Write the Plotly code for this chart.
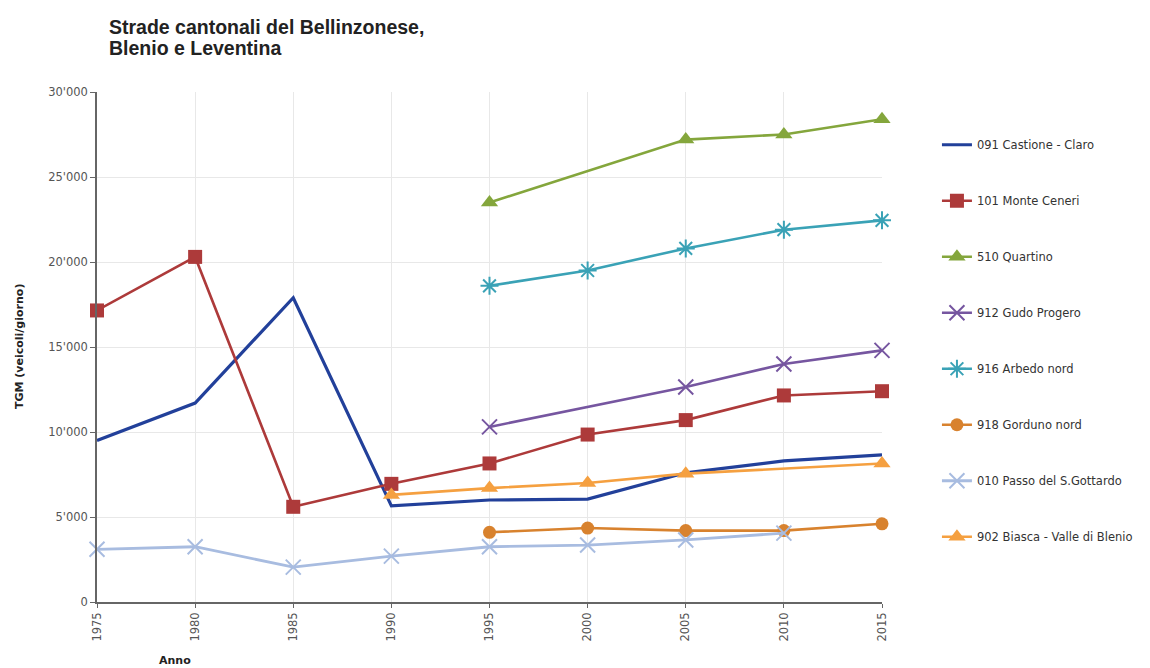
import plotly.graph_objects as go

years = [1975, 1980, 1985, 1990, 1995, 2000, 2005, 2010, 2015]

castione_claro = [9500, 11700, 17900, 5650, 6000, 6050, 7600, 8300, 8650]
monte_ceneri = [17150, 20300, 5600, 6950, 8150, 9850, 10700, 12150, 12400]
quartino = [None, None, None, None, 23500, None, 27200, 27500, 28400]
gudo_progero = [None, None, None, None, 10300, None, 12650, 14000, 14800]
arbedo_nord = [None, None, None, None, 18600, 19500, 20800, 21900, 22450]
gorduno_nord = [None, None, None, None, 4100, 4350, 4200, 4200, 4600]
passo_gottardo = [3100, 3250, 2050, 2700, 3250, 3350, 3650, 4050, None]
biasca_blenio = [None, None, None, 6300, 6700, 7000, 7550, None, 8150]

series_names = [
    "091 Castione - Claro",
    "101 Monte Ceneri",
    "510 Quartino",
    "912 Gudo Progero",
    "916 Arbedo nord",
    "918 Gorduno nord",
    "010 Passo del S.Gottardo",
    "902 Biasca - Valle di Blenio",
]
series_values = [castione_claro, monte_ceneri, quartino, gudo_progero,
                 arbedo_nord, gorduno_nord, passo_gottardo, biasca_blenio]

y_tickvals = [0, 5000, 10000, 15000, 20000, 25000, 30000]
y_ticktext = ["0", "5'000", "10'000", "15'000", "20'000", "25'000", "30'000"]

title_lines = ["Strade cantonali del Bellinzonese,", "Blenio e Leventina"]

styles = [
    dict(color="#22409a", width=3.2, symbol=None, size=0),
    dict(color="#ad3a3a", width=2.6, symbol="square", size=14),
    dict(color="#84a63c", width=2.6, symbol="triangle-up", size=15),
    dict(color="#7656a0", width=2.6, symbol="x-thin-open", size=15),
    dict(color="#3aa2b6", width=2.6, symbol="asterisk-open", size=15),
    dict(color="#d8822e", width=2.6, symbol="circle", size=13),
    dict(color="#a8bce0", width=2.8, symbol="x-thin-open", size=15),
    dict(color="#f5a040", width=2.6, symbol="triangle-up", size=15),
]

TICKFONT = "DejaVu Sans, Liberation Sans, sans-serif"
TITLEFONT = "Liberation Sans, Arial, sans-serif"

fig = go.Figure()
for i, (name, vals, st) in enumerate(zip(series_names, series_values, styles)):
    mode = "lines" if st["symbol"] is None else "lines+markers"
    marker = dict(color=st["color"], size=st["size"])
    if st["symbol"] is not None:
        marker["symbol"] = st["symbol"]
        if "open" in st["symbol"]:
            marker["line"] = dict(color=st["color"], width=2)
    fig.add_trace(go.Scatter(
        x=years, y=vals, name=name, mode=mode,
        line=dict(color=st["color"], width=st["width"]),
        marker=marker, connectgaps=True, cliponaxis=False,
        legendgroup=f"g{i}",
    ))

annotations = [
    dict(text=f"<b>{title_lines[0]}</b>", xref="paper", yref="paper",
         x=0, xshift=10, y=1, yshift=65, xanchor="left", yanchor="middle",
         align="left", showarrow=False,
         font=dict(family=TITLEFONT, size=19.5, color="#222")),
    dict(text=f"<b>{title_lines[1]}</b>", xref="paper", yref="paper",
         x=0, xshift=10, y=1, yshift=44, xanchor="left", yanchor="middle",
         align="left", showarrow=False,
         font=dict(family=TITLEFONT, size=19.5, color="#222")),
    dict(text="<b>TGM (veicoli/giorno)</b>", xref="paper", yref="paper",
         x=0, xshift=-78, y=0.5, textangle=-90, showarrow=False,
         xanchor="center", yanchor="middle",
         font=dict(family=TICKFONT, size=11, color="#222")),
    dict(text="<b>Anno</b>", xref="paper", yref="paper",
         x=0.0994, y=0, yshift=-58, xanchor="center", yanchor="middle",
         showarrow=False, font=dict(family=TICKFONT, size=11, color="#222")),
]

fig.update_layout(
    width=1142, height=660,
    paper_bgcolor="white", plot_bgcolor="white",
    margin=dict(l=89, r=268, t=84, b=66, autoexpand=False),
    font=dict(family=TICKFONT, size=11, color="#444"),
    showlegend=True,
    legend=dict(
        x=1.07, xanchor="left", y=0.925, yanchor="top",
        font=dict(family=TICKFONT, size=11.5, color="#333"),
        tracegroupgap=37,
        bgcolor="rgba(0,0,0,0)",
    ),
    xaxis=dict(
        range=[1975, 2015], tickvals=years, ticktext=[str(y) for y in years],
        tickangle=-90, showgrid=True, gridcolor="#e8e8e8", gridwidth=1,
        showline=True, linecolor="#666", linewidth=1.5,
        ticks="outside", ticklen=4, tickcolor="#666", zeroline=False,
        tickfont=dict(family=TICKFONT, size=11.5, color="#555"),
    ),
    yaxis=dict(
        range=[0, 30000], tickvals=y_tickvals, ticktext=y_ticktext,
        showgrid=True, gridcolor="#e8e8e8", gridwidth=1,
        showline=True, linecolor="#666", linewidth=1.5,
        ticks="outside", ticklen=5, tickcolor="#666", zeroline=False,
        tickfont=dict(family=TICKFONT, size=11.5, color="#555"),
    ),
    annotations=annotations,
)

fig.write_html("out.html")
